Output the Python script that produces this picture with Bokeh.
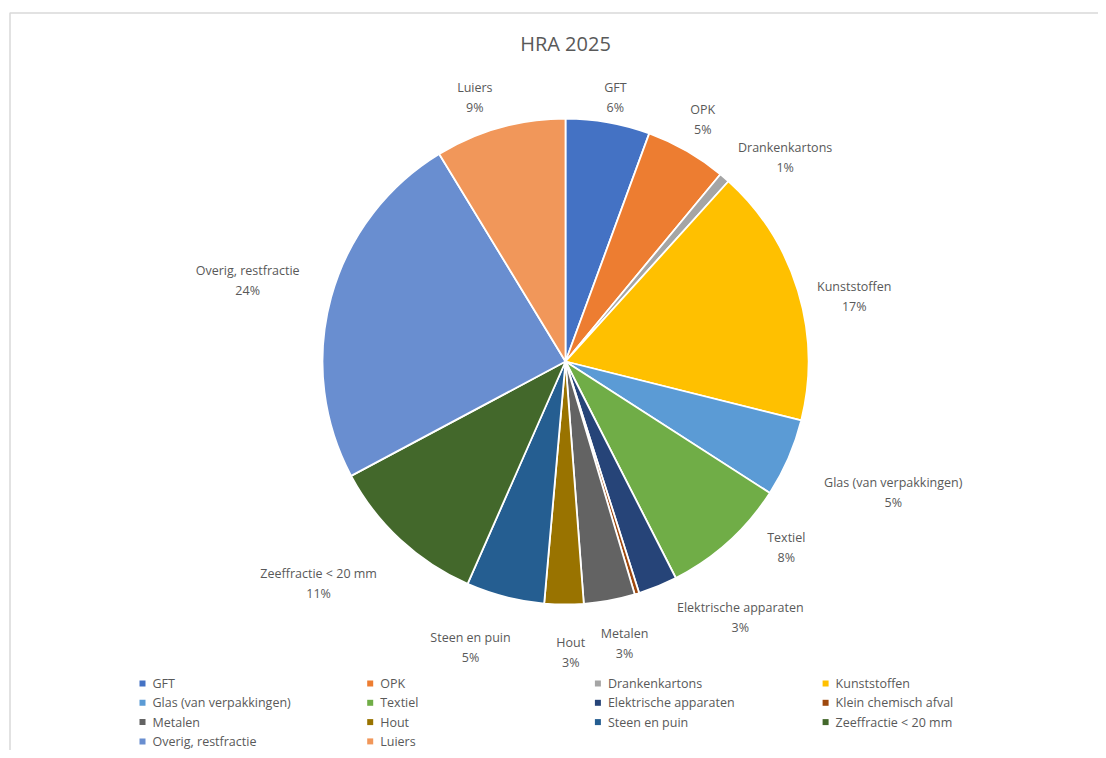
import math
from bokeh.plotting import figure
from bokeh.models import Range1d, ColumnDataSource
from bokeh.core.properties import value
from bokeh.embed import file_html
from bokeh.resources import INLINE

# ---------------- data ----------------
categories = ["GFT", "OPK", "Drankenkartons", "Kunststoffen", "Glas (van verpakkingen)",
              "Textiel", "Elektrische apparaten", "Klein chemisch afval", "Metalen", "Hout",
              "Steen en puin", "Zeeffractie < 20 mm", "Overig, restfractie", "Luiers"]
shares = [5.6, 5.4, 0.7, 17.2, 5.2, 8.4, 2.6, 0.3, 3.4, 2.6, 5.2, 10.6, 24.1, 8.7]
colors = ["#4472C4", "#ED7D31", "#A5A5A5", "#FFC000", "#5B9BD5", "#70AD47", "#264478",
          "#9E480E", "#636363", "#997300", "#255E91", "#43682B", "#698ED0", "#F1975A"]
title_text = "HRA 2025"
show_label = [True] * 7 + [False] + [True] * 6

# ---------------- layout (screen px) ----------------
W, H = 1098, 750
CX, CY, R = 565, 361, 243
label_dist = [269, 278, 300, 296, 353, 289, 310, 0, 288, 291, 301, 332, 328, 279]
label_dtheta = [0.6, -0.3, 6.2, 4.2, -1.6, -7.7, -12.0, 0, -1.4, -1.4, 4.0, 5.2, -1.0, -3.3]
TXT = "#595959"
FONT = "Open Sans"

p = figure(width=W, height=H, output_backend="svg", toolbar_location=None,
           x_axis_type=None, y_axis_type=None, min_border=0,
           x_range=Range1d(0, W), y_range=Range1d(-H, 0))
p.outline_line_color = None
p.background_fill_color = "white"
p.border_fill_color = "white"

# chart-area border
p.quad(left=[9.5], right=[1100.5], top=[-12.5], bottom=[-757], fill_color=None,
       line_color="#D9D9D9", line_width=1.5)

total = sum(shares)
cum = 0.0
starts, ends, mids = [], [], []
for s in shares:
    a0 = cum / total
    cum += s
    a1 = cum / total
    starts.append(math.pi / 2 - 2 * math.pi * a0)
    ends.append(math.pi / 2 - 2 * math.pi * a1)
    mids.append(360 * (a0 + a1) / 2)

src = ColumnDataSource(dict(x=[CX] * len(shares), y=[-CY] * len(shares),
                            start=starts, end=ends, color=colors))
p.wedge(x="x", y="y", radius=R, start_angle="start", end_angle="end",
        direction="clock", fill_color="color", line_color="white", line_width=1.8,
        source=src)

# data labels
lx, ly1, ly2, n1, n2 = [], [], [], [], []
for i, c in enumerate(categories):
    if not show_label[i]:
        continue
    th = math.radians(mids[i] + label_dtheta[i])
    x = CX + label_dist[i] * math.sin(th)
    y = CY - label_dist[i] * math.cos(th)
    lx.append(x)
    ly1.append(-(y - 10))
    ly2.append(-(y + 10))
    n1.append(c)
    n2.append(f"{int(shares[i] / total * 100 + 0.5)}%")

p.text(x=lx, y=ly1, text=n1, text_align="center", text_baseline="middle",
       text_font=value(FONT), text_font_size="12.5px", text_color=TXT)
p.text(x=lx, y=ly2, text=n2, text_align="center", text_baseline="middle",
       text_font=value(FONT), text_font_size="12.5px", text_color=TXT)

# title
p.text(x=[CX], y=[-43], text=[title_text], text_align="center", text_baseline="middle",
       text_font=value(FONT), text_font_size="20px", text_color=TXT)

# legend (4 columns, row-major)
LX0, LDX, LY0, LDY = 142, 227.7, 683, 19.3
mx, my, tx = [], [], []
for i, c in enumerate(categories):
    col, row = i % 4, i // 4
    mx.append(LX0 + col * LDX)
    my.append(-(LY0 + row * LDY))
    tx.append(LX0 + col * LDX + 10)
p.scatter(x=mx, y=my, marker="square", size=6, fill_color=colors, line_color=None)
p.text(x=tx, y=my, text=categories, text_align="left", text_baseline="middle",
       text_font=value(FONT), text_font_size="12.5px", text_color=TXT)

open("out.html", "w").write(file_html(p, INLINE))
